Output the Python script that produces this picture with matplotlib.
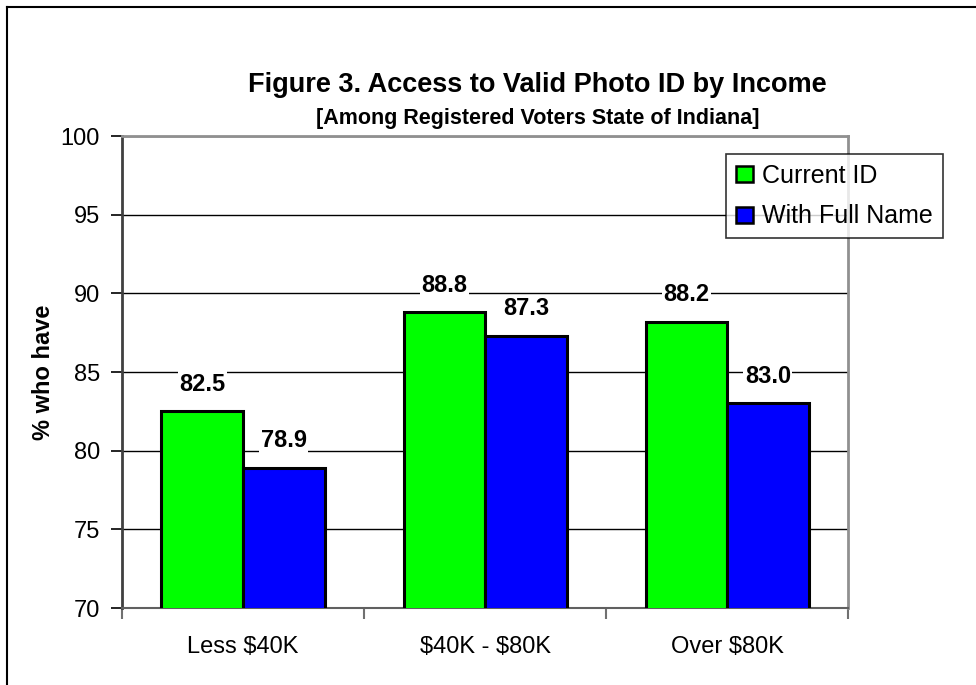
import numpy as np
import matplotlib
matplotlib.use("Agg")
import matplotlib.pyplot as plt
from matplotlib.lines import Line2D

plt.rcParams['font.family'] = ['Liberation Sans', 'DejaVu Sans']
plt.rcParams['text.parse_math'] = False

# income groups and share of voters holding a valid photo ID
categories = ['Less $40K', '$40K - $80K', 'Over $80K']
current_id = [82.5, 88.8, 88.2]
full_name = [78.9, 87.3, 83.0]
series_names = ['Current ID', 'With Full Name']
yticks = [70, 75, 80, 85, 90, 95, 100]

fig = plt.figure(figsize=(9.76, 6.85), dpi=100)
ax = fig.add_axes([0.125, 0.1124, 0.744, 0.689])

x = np.arange(len(categories))
w = 0.337
b1 = ax.bar(x - w / 2, current_id, w, color='#00ff00', edgecolor='black',
            linewidth=2.2, label=series_names[0], zorder=3)
b2 = ax.bar(x + w / 2, full_name, w, color='#0000ff', edgecolor='black',
            linewidth=2.2, label=series_names[1], zorder=3)

for bars, vals in ((b1, current_id), (b2, full_name)):
    for r, v in zip(bars, vals):
        ax.text(r.get_x() + r.get_width() / 2, v + 1.0, '%.1f' % v,
                ha='center', va='bottom', fontsize=17, fontweight='bold',
                zorder=4, bbox=dict(facecolor='white', edgecolor='none', pad=1))

ax.set_ylim(70, 100)
ax.set_xlim(-0.5, 2.5)
ax.set_yticks(yticks)
ax.tick_params(axis='y', labelsize=17, length=8, width=1.2, color='black',
               direction='out', pad=8)
ax.yaxis.grid(True, color='black', linewidth=1.0, zorder=0)
ax.set_axisbelow(True)

ax.set_xticks(x)
ax.set_xticklabels(categories)
ax.tick_params(axis='x', which='major', length=0, labelsize=17, pad=20)
ax.set_xticks([-0.5, 0.5, 1.5, 2.5], minor=True)
ax.tick_params(axis='x', which='minor', length=8, width=1.5, color='#707070',
               direction='out')

ax.set_ylabel('% who have', fontsize=17, fontweight='bold', labelpad=4)

for side in ('top', 'right'):
    ax.spines[side].set_color('#909090')
    ax.spines[side].set_linewidth(2)
ax.spines['left'].set_color('#404040')
ax.spines['left'].set_linewidth(2)
ax.spines['bottom'].set_color('#606060')
ax.spines['bottom'].set_linewidth(1.5)

leg = fig.legend(handles=[b1, b2], loc='upper right',
                 bbox_to_anchor=(0.966, 0.775), borderaxespad=0,
                 fontsize=18, frameon=True, fancybox=False,
                 handlelength=0.7, handleheight=0.6, handletextpad=0.35,
                 borderpad=0.4, labelspacing=0.65)
leg.get_frame().set_edgecolor('black')
leg.get_frame().set_linewidth(1.2)
for h in leg.legend_handles:
    h.set_linewidth(1.8)

fig.text(0.551, 0.876, 'Figure 3. Access to Valid Photo ID by Income',
         ha='center', va='center', fontsize=19.5, fontweight='bold')
fig.text(0.551, 0.827, '[Among Registered Voters State of Indiana]',
         ha='center', va='center', fontsize=15.5, fontweight='bold')

# outer frame: only the left and top edges show
fig.add_artist(Line2D([0.007, 0.007], [0, 0.99], transform=fig.transFigure,
                      color='black', linewidth=1.5))
fig.add_artist(Line2D([0.007, 1], [0.99, 0.99], transform=fig.transFigure,
                      color='black', linewidth=1.5))

fig.savefig('out.png', dpi=100)
